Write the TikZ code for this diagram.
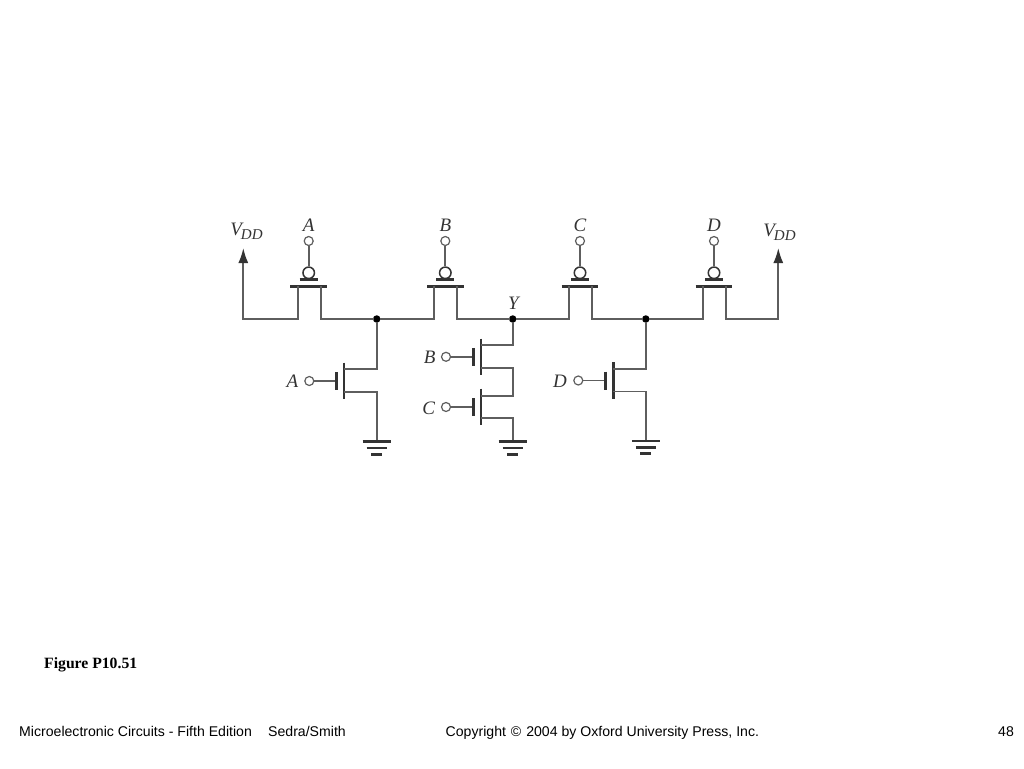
\documentclass[tikz,border=0pt]{standalone}
\usepackage{fontspec}
\setmainfont{Liberation Serif}
\newfontfamily\footfont{Liberation Sans}
\usetikzlibrary{arrows.meta}
\definecolor{wirec}{HTML}{5E5E5E}
\definecolor{barc}{HTML}{333333}
\tikzset{
  wire/.style={draw=wirec,line width=1.7pt},
  corner wire/.style={wire,line cap=rect},
  thick bar/.style={draw=barc,line width=2.8pt},
  term/.style={circle,draw=wirec,fill=white,line width=1.2pt,minimum size=9pt,inner sep=0pt},
  bubble/.style={circle,draw=barc,fill=white,line width=1.5pt,minimum size=11.5pt,inner sep=0pt},
  jdot/.style={circle,fill=black,minimum size=7.5pt,inner sep=0pt},
  lab/.style={inner sep=0pt,font=\fontsize{19}{19}\selectfont\itshape,text=barc},
  foot/.style={inner sep=0pt,anchor=base west,font=\footfont\fontsize{14.1}{16}\selectfont,text=black},
  sup arrow/.style={wire,-{Latex[length=15pt,width=10pt,color=barc]}}
}
\begin{document}
\begin{tikzpicture}[x=1pt,y=-1pt]
\useasboundingbox (0,0) rectangle (1024,768);

% junctions
\node[jdot] (n1) at (376.7,319) {};
\node[jdot] (ny) at (512.7,319) {};
\node[jdot] (n2) at (645.8,319) {};
\coordinate (vl) at (243.3,248);
\coordinate (vlb) at (243.3,319);
\coordinate (vr) at (778.3,248);
\coordinate (vrb) at (778.3,319);
\draw[sup arrow] (vlb) -- (vl);
\draw[sup arrow] (vrb) -- (vr);

% PMOS row
\foreach \nm/\cx/\s/\d/\lt/\rt in {A/308.7/297.7/321/vlb/n1,B/445.3/433.7/457/n1/ny,C/580/568.7/591.7/ny/n2,D/714/702.7/725.7/n2/vrb}{
  \node[term] (pin\nm) at (\cx,241) {};
  \node[bubble] (bub\nm) at (\cx,272.8) {};
  \draw[wire] (pin\nm) -- (bub\nm);
  \draw[thick bar] (\cx-9,279.5) -- (\cx+9,279.5);
  \draw[thick bar] (\cx-18.3,286.7) -- (\cx+18.3,286.7);
  \draw[corner wire] (\lt) -- (\s,319) -- (\s,286.7);
  \draw[corner wire] (\d,286.7) -- (\d,319) -- (\rt);
  \node[lab] (lab\nm) at (\cx,225) {\nm};
}

% NMOS: name/channel x/gate x/pin x/mid y/drain y/source y/rail x
\foreach \nm/\ch/\g/\px/\my/\dy/\sy/\rx in {a/344/336.7/309.3/381/369.3/392/376.7,b/481/473.3/446/356.8/345/367.7/512.7,c/481/473.3/446/407/395.7/418.3/512.7,d/613.3/605.7/578.3/380.5/368.7/391.5/645.8}{
  \node[term] (ipin\nm) at (\px,\my) {};
  \draw[wire] (ipin\nm) -- (\g,\my);
  \draw[thick bar] (\g,\my-9) -- (\g,\my+9);
  \draw[thick bar] (\ch,\my-18.3) -- (\ch,\my+18.3);
  \draw[wire] (\ch,\dy) -- (\rx,\dy);
  \draw[wire] (\ch,\sy) -- (\rx,\sy);
}
% rails
\draw[corner wire] (n1) -- (376.7,369.3);
\draw[corner wire] (ny) -- (512.7,345);
\draw[corner wire] (512.7,367.7) -- (512.7,395.7);
\draw[corner wire] (n2) -- (645.8,368.7);
\foreach \x/\top/\g in {376.7/392/441.7,512.7/418.3/441.7,645.8/391.5/441}{
  \draw[corner wire] (\x,\top) -- (\x,\g);
  \draw[thick bar] (\x-14,\g) -- (\x+14,\g);
  \draw[thick bar] (\x-10,\g+6.2) -- (\x+10,\g+6.2);
  \draw[thick bar] (\x-5.5,\g+12.5) -- (\x+5.5,\g+12.5);
}

% labels
\node[lab] (la) at (292.3,381) {A};
\node[lab] (lb) at (429.7,357) {B};
\node[lab] (lc) at (428.7,408) {C};
\node[lab] (ld) at (560,381) {D};
\node[lab] (ly) at (513.5,303) {Y};
\node[lab] (vddl) at (246.5,231.5) {V\kern-1pt\raisebox{-3.5pt}{\fontsize{15}{15}\selectfont DD}};
\node[lab] (vddr) at (779.5,232.5) {V\kern-1pt\raisebox{-3.5pt}{\fontsize{15}{15}\selectfont DD}};

% captions
\node[inner sep=0pt,anchor=base west,font=\fontsize{15.7}{18}\selectfont\bfseries] (fig) at (44,668.5) {Figure P10.51};
\node[foot] (f1) at (19,736) {Microelectronic Circuits - Fifth Edition};
\node[foot] (f2) at (268,736) {Sedra/Smith};
\node[foot] (f3) at (445.5,736) {Copyright \kern1pt©\kern1pt{} 2004 by Oxford University Press, Inc.};
\node[foot] (f4) at (998,736) {48};
\end{tikzpicture}
\end{document}
